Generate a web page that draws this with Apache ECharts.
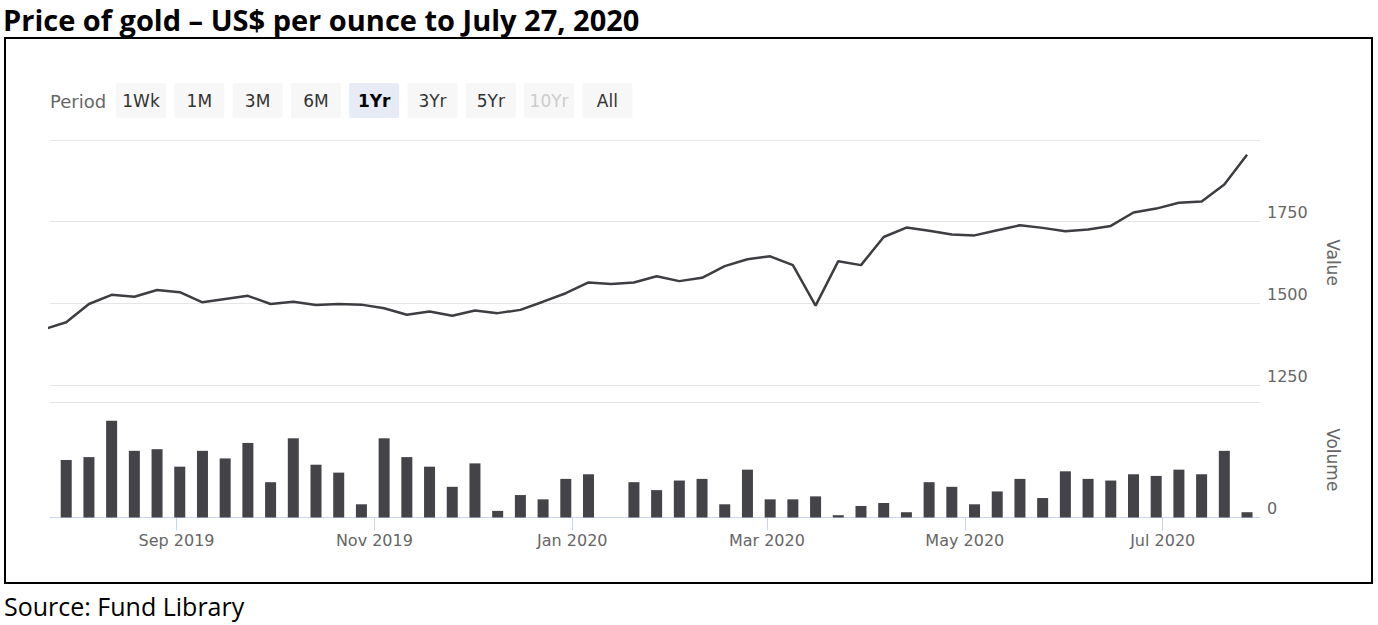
<!DOCTYPE html>
<html>
<head>
<meta charset="utf-8">
<script src="https://cdn.jsdelivr.net/npm/echarts@6/dist/echarts.min.js"></script>
<style>
html,body{margin:0;padding:0;background:#fff;}
#chart{width:1378px;height:625px;}
</style>
</head>
<body>
<div id="chart"></div>
<script>
// ---- data ----
const priceDates = ['2019-07-22','2019-07-29','2019-08-05','2019-08-12','2019-08-19','2019-08-26','2019-09-02','2019-09-09','2019-09-16','2019-09-23','2019-09-30','2019-10-07','2019-10-14','2019-10-21','2019-10-28','2019-11-04','2019-11-11','2019-11-18','2019-11-25','2019-12-02','2019-12-09','2019-12-16','2019-12-23','2019-12-30','2020-01-06','2020-01-13','2020-01-20','2020-01-27','2020-02-03','2020-02-10','2020-02-17','2020-02-24','2020-03-02','2020-03-09','2020-03-16','2020-03-23','2020-03-30','2020-04-06','2020-04-13','2020-04-20','2020-04-27','2020-05-04','2020-05-11','2020-05-18','2020-05-25','2020-06-01','2020-06-08','2020-06-15','2020-06-22','2020-06-29','2020-07-06','2020-07-13','2020-07-20','2020-07-27'];
const priceValues = [1420,1442,1498,1526,1520,1541,1534,1503,1513,1523,1498,1505,1495,1498,1496,1485,1465,1475,1462,1478,1470,1480,1505,1531,1564,1559,1564,1583,1568,1578,1614,1635,1644,1617,1493,1629,1617,1703,1732,1722,1711,1708,1724,1739,1731,1721,1726,1737,1778,1790,1808,1812,1864,1955];
const volumeDates = priceDates.slice(1);
const volumeValues = [174,183,293,202,207,154,202,179,226,107,240,160,136,40,240,183,154,93,164,20,68,55,117,131,0,107,83,112,117,40,145,55,55,64,7,35,44,16,107,93,40,79,117,59,140,117,112,131,126,145,131,202,16];
const tickDates = ['2019-09-01','2019-11-01','2020-01-01','2020-03-01','2020-05-01','2020-07-01'];
const tickLabels = ['Sep 2019','Nov 2019','Jan 2020','Mar 2020','May 2020','Jul 2020'];
const priceTicks = [1250,1500,1750,2000];
const periodButtons = ['1Wk','1M','3M','6M','1Yr','3Yr','5Yr','10Yr','All'];
const titleText = 'Price of gold \u2013 US$ per ounce to July 27, 2020';
const sourceText = 'Source: Fund Library';

// ---- helpers ----
const ts = s => new Date(s + 'T00:00:00').getTime();
const tickTs = tickDates.map(ts);
const xMin = ts('2019-07-24');
const xMax = ts('2020-07-31');
const axisFont = 'DejaVu Sans';

const graphics = [];
graphics.push({type:'text', x:3, y:19, style:{text:titleText, font:'bold 29px "Open Sans"', lineHeight:30, fill:'#000', textVerticalAlign:'middle'}});
graphics.push({type:'text', x:4, y:606, style:{text:sourceText, font:'25px "Open Sans"', fill:'#000', textVerticalAlign:'middle'}});
graphics.push({type:'rect', shape:{x:5, y:38, width:1367, height:545}, style:{fill:'none', stroke:'#000', lineWidth:2}, z:100});
graphics.push({type:'text', x:50, y:101, style:{text:'Period', font:'18px "DejaVu Sans"', fill:'#666', textVerticalAlign:'middle'}});
periodButtons.forEach((b, i) => {
  const x = 116 + i * 58.3;
  const sel = b === '1Yr';
  const dis = b === '10Yr';
  graphics.push({type:'rect', shape:{x:x, y:83, width:50, height:35, r:2}, style:{fill: sel ? '#e6ebf5' : '#f7f7f7'}});
  graphics.push({type:'text', x:x + 25, y:101, style:{text:b, font:(sel ? 'bold ' : '') + '17px "DejaVu Sans"', fill: dis ? '#cccccc' : (sel ? '#000' : '#333'), textAlign:'center', textVerticalAlign:'middle'}});
});

const chart = echarts.init(document.getElementById('chart'), null, {renderer:'svg'});
chart.setOption({
  animation:false,
  backgroundColor:'#fff',
  grid:[
    {left:50, right:118, top:140, height:245},
    {left:50, right:118, top:402, height:115.5}
  ],
  xAxis:[
    {type:'value', gridIndex:0, min:xMin, max:xMax, show:false, splitLine:{show:false}},
    {type:'value', gridIndex:1, min:xMin, max:xMax,
      axisLine:{show:true, onZero:false, lineStyle:{color:'#ccd6eb', width:1}},
      axisTick:{show:true, customValues:tickTs, length:13, lineStyle:{color:'#ccd6eb'}},
      axisLabel:{customValues:tickTs, margin:15, color:'#666', fontSize:16, fontFamily:axisFont,
        formatter: v => { const i = tickTs.indexOf(v); return i >= 0 ? tickLabels[i] : ''; }},
      splitLine:{show:false}}
  ],
  yAxis:[
    {type:'value', gridIndex:0, position:'right', min:priceTicks[0], max:priceTicks[priceTicks.length-1], interval:250,
      name:'Value', nameLocation:'middle', nameRotate:-90, nameGap:64,
      nameTextStyle:{color:'#666', fontSize:17, fontFamily:axisFont},
      axisLine:{show:false}, axisTick:{show:false},
      axisLabel:{showMaxLabel:false, color:'#666', fontSize:16, fontFamily:axisFont, margin:7, align:'left', verticalAlign:'bottom', padding:[0,0,1,0],
        formatter: v => String(v)},
      splitLine:{lineStyle:{color:'#e6e6e6', width:1}}},
    {type:'value', gridIndex:1, position:'right', min:0, max:350, interval:350,
      name:'Volume', nameLocation:'middle', nameRotate:-90, nameGap:64,
      nameTextStyle:{color:'#666', fontSize:17, fontFamily:axisFont},
      axisLine:{show:false}, axisTick:{show:false},
      axisLabel:{showMaxLabel:false, color:'#666', fontSize:16, fontFamily:axisFont, margin:7, align:'left', verticalAlign:'bottom', padding:[0,0,1,0],
        formatter: v => String(v)},
      splitLine:{lineStyle:{color:'#e6e6e6', width:1}}}
  ],
  graphic: graphics,
  series:[
    {type:'line', xAxisIndex:0, yAxisIndex:0, showSymbol:false, clip:true,
      data: priceDates.map((d, i) => [ts(d), priceValues[i]]),
      lineStyle:{color:'#3d3d42', width:2.5}, itemStyle:{color:'#3d3d42'}},
    {type:'bar', xAxisIndex:1, yAxisIndex:1, barWidth:11,
      data: volumeDates.map((d, i) => [ts(d), volumeValues[i]]),
      itemStyle:{color:'#434348'}}
  ]
});
</script>
</body>
</html>
